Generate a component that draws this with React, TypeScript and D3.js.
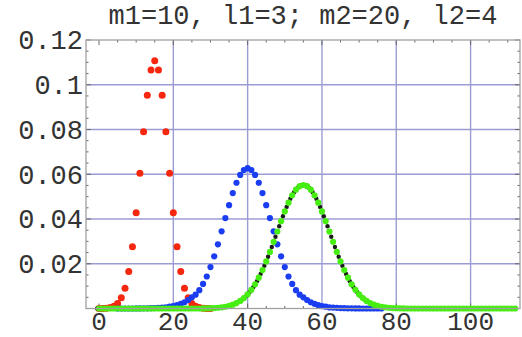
import React from "react";
import * as d3 from "d3";

const W = 522;
const H = 337;

const titleText = "m1=10, l1=3; m2=20, l2=4";
const xTickValues = [0, 20, 40, 60, 80, 100];
const yTickValues = [0.02, 0.04, 0.06, 0.08, 0.1, 0.12];
const yTickLabels = ["0.02", "0.04", "0.06", "0.08", "0.1", "0.12"];
const xGridValues = [20, 40, 60, 80, 100];
const yGridValues = [0.02, 0.04, 0.06, 0.08, 0.1];

// red series, x = 0..30
const redStart = 0;
const redValues = [
  0, 0.00003, 0.0001, 0.0004, 0.001, 0.0022, 0.0048, 0.009, 0.0165, 0.0276,
  0.0428, 0.0604, 0.079, 0.0953, 0.1066, 0.1107, 0.1066, 0.0953, 0.079, 0.0604,
  0.0428, 0.0276, 0.0165, 0.009, 0.0048, 0.0022, 0.001, 0.0004, 0.0001, 0.00003,
  0,
];

// blue series, x = 5..76
const blueStart = 5;
const blueValues = [
  0, 0, 0, 0, 0,
  0.00003, 0.00005, 0.00007, 0.0001, 0.00015, 0.0002, 0.0003, 0.0004, 0.0005, 0.0008,
  0.0011, 0.0015, 0.0021, 0.0028, 0.0038, 0.005, 0.0062, 0.0082, 0.011, 0.0143,
  0.0185, 0.0233, 0.0287, 0.0345, 0.0404, 0.0462, 0.0516, 0.0562, 0.0597, 0.0619,
  0.0627,
  0.0619, 0.0597, 0.0562, 0.0516, 0.0462, 0.0404, 0.0345, 0.0287, 0.0233, 0.0185,
  0.0143, 0.011, 0.0082, 0.0062, 0.005, 0.0038, 0.0028, 0.0021, 0.0015, 0.0011,
  0.0008, 0.0005, 0.0004, 0.0003, 0.0002, 0.00015, 0.0001, 0.00007, 0.00005, 0.00003,
  0, 0, 0, 0, 0, 0,
];

// black series, x = -0.5, 0.5, ..., 84.5
const blackStart = -0.5;
const blackValues = [
  0, 0, 0, 0, 0, 0, 0, 0, 0, 0,
  0, 0, 0, 0, 0, 0, 0, 0, 0, 0,
  0, 0, 0, 0, 0, 0, 0, 0,
  0.00004, 0.00006, 0.0001, 0.00017, 0.00027, 0.00042, 0.00064, 0.00096, 0.00141, 0.00203,
  0.00288, 0.004, 0.00544, 0.00727, 0.00952, 0.01223, 0.01542, 0.01906, 0.02312, 0.0275,
  0.03209, 0.03673, 0.04123, 0.04541, 0.04905, 0.05197, 0.05401, 0.05507,
  0.05507, 0.05401, 0.05197, 0.04905, 0.04541, 0.04123, 0.03673, 0.03209, 0.0275, 0.02312,
  0.01906, 0.01542, 0.01223, 0.00952, 0.00727, 0.00544, 0.004, 0.00288, 0.00203, 0.00141,
  0.00096, 0.00064, 0.00042, 0.00027, 0.00017, 0.0001, 0.00006, 0.00004,
  0, 0,
];

// green series, x = 0..112
const greenStart = 0;
const greenValues = [
  0, 0, 0, 0, 0, 0, 0, 0, 0, 0,
  0, 0, 0, 0, 0, 0, 0, 0, 0, 0,
  0, 0, 0, 0, 0, 0, 0, 0,
  0.00005, 0.00008, 0.00013, 0.00021, 0.00034, 0.00052, 0.00079, 0.00117, 0.0017, 0.00243,
  0.0034, 0.00468, 0.00631, 0.00834, 0.01082, 0.01377, 0.01719, 0.02104, 0.02528, 0.02978,
  0.03441, 0.03901, 0.04338, 0.04731, 0.05061, 0.05311, 0.05467,
  0.0552,
  0.05467, 0.05311, 0.05061, 0.04731, 0.04338, 0.03901, 0.03441, 0.02978, 0.02528, 0.02104,
  0.01719, 0.01377, 0.01082, 0.00834, 0.00631, 0.00468, 0.0034, 0.00243, 0.0017, 0.00117,
  0.00079, 0.00052, 0.00034, 0.00021, 0.00013, 0.00008, 0.00005,
  0, 0, 0, 0, 0, 0, 0, 0, 0, 0,
  0, 0, 0, 0, 0, 0, 0, 0, 0, 0,
  0, 0, 0, 0, 0, 0, 0, 0, 0, 0,
];

const FONT = "'Liberation Mono', 'Courier New', monospace";

export default function App() {
  const left = 86, right = 520, top = 40, bottom = 308.5;
  const x = d3.scaleLinear().domain([-3.5, 113.3]).range([left, right]);
  const y = d3.scaleLinear().domain([0, 0.12]).range([bottom, top]);

  const pts = (start: number, vals: number[]) =>
    vals.map((v, i) => ({ x: start + i, y: v }));

  const series = [
    { data: pts(redStart, redValues), color: "#f5280f", r: 3.5 },
    { data: pts(blueStart, blueValues), color: "#1a3df2", r: 3.1 },
    { data: pts(blackStart, blackValues), color: "#1a1a1a", r: 2.2 },
    { data: pts(greenStart, greenValues), color: "#46ee12", r: 3.1 },
  ];

  const minorX = d3.range(0, 114, 5);
  const minorY = d3.range(0, 0.1201, 0.005);

  return (
    <svg
      width={W}
      height={H}
      style={{ position: "absolute", left: 0, top: 0, background: "#fff" }}
    >
      <rect x={0} y={0} width={W} height={H} fill="#fff" />
      {xGridValues.map((v) => (
        <line key={"gx" + v} x1={x(v)} x2={x(v)} y1={top} y2={bottom} stroke="#9c9cd4" strokeWidth={1.4} />
      ))}
      {yGridValues.map((v) => (
        <line key={"gy" + v} x1={left} x2={right} y1={y(v)} y2={y(v)} stroke="#9c9cd4" strokeWidth={1.4} />
      ))}
      {minorX.map((v) => {
        const major = v % 20 === 0;
        const len = major ? 5 : 2.5;
        return (
          <g key={"tx" + v}>
            <line x1={x(v)} x2={x(v)} y1={bottom} y2={bottom - len} stroke="#666" strokeWidth={1} />
            <line x1={x(v)} x2={x(v)} y1={top} y2={top + len} stroke="#666" strokeWidth={1} />
          </g>
        );
      })}
      {minorY.map((v, i) => {
        const major = i % 4 === 0;
        const len = major ? 5 : 2.5;
        return (
          <g key={"ty" + i}>
            <line x1={left} x2={left + len} y1={y(v)} y2={y(v)} stroke="#666" strokeWidth={1} />
            <line x1={right} x2={right - len} y1={y(v)} y2={y(v)} stroke="#666" strokeWidth={1} />
          </g>
        );
      })}
      {series.map((s, si) => (
        <g key={"s" + si}>
          {s.data.map((d, i) => (
            <circle key={i} cx={x(d.x)} cy={y(d.y)} r={s.r} fill={s.color} />
          ))}
        </g>
      ))}
      <rect x={left} y={top} width={right - left} height={bottom - top} fill="none" stroke="#a0a0a0" strokeWidth={1.3} />
      {yTickValues.map((v, i) => (
        <text key={"yl" + v} x={83} y={y(v)} dy="0.35em" textAnchor="end" fontFamily={FONT} fontSize={27} fill="#333">
          {yTickLabels[i]}
        </text>
      ))}
      {xTickValues.map((v) => (
        <text key={"xl" + v} x={x(v)} y={330} textAnchor="middle" fontFamily={FONT} fontSize={26} fill="#333">
          {String(v)}
        </text>
      ))}
      <text x={(left + right) / 2} y={15} dy="0.35em" textAnchor="middle" fontFamily={FONT} fontSize={27} fill="#333">
        {titleText}
      </text>
    </svg>
  );
}
